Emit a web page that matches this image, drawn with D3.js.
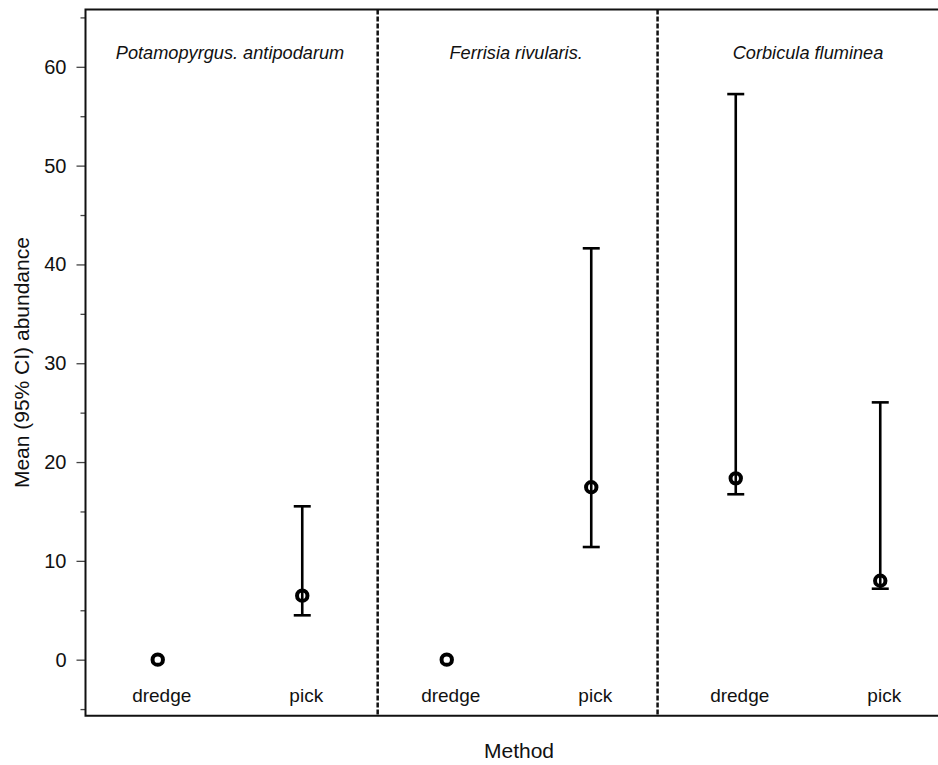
<!DOCTYPE html>
<html>
<head>
<meta charset="utf-8">
<script src="https://cdn.jsdelivr.net/npm/d3@7"></script>
<style>
  html, body { margin: 0; padding: 0; background: #fff; }
  svg { display: block; font-family: "Liberation Sans", Arial, sans-serif; }
</style>
</head>
<body>
<svg id="chart" width="938" height="765"></svg>
<script>
// ---- data ----
const species = ["Potamopyrgus. antipodarum", "Ferrisia rivularis.", "Corbicula fluminea"];
const methods = ["dredge", "pick"];
const means = [0, 6.48, 0, 17.45, 18.35, 7.99];
const lower = [0, 4.49, 0, 11.40, 16.74, 7.18];
const upper = [0, 15.52, 0, 41.63, 57.24, 26.04];
const majorTicks = [0, 10, 20, 30, 40, 50, 60];
const minorTicks = [-5, 5, 15, 25, 35, 45, 55, 65];
const yTitle = "Mean (95% CI) abundance";
const xTitle = "Method";

// ---- layout ----
const L = 85.5, R = 952.5, T = 9.5, B = 715.7;
const dividerIdx = [1.522, 3.459];
const titleIdx = [0.5, 2.48, 4.5];

const svg = d3.select("#chart");
const x = d3.scaleLinear().domain([-0.5, 5.5]).range([L, R]);
const y = d3.scaleLinear().domain([-5.67, 65.8]).range([B, T]);

const rows = means.map((m, i) => ({
  i, m, lo: lower[i], hi: upper[i],
  method: methods[i % 2], sp: species[Math.floor(i / 2)]
}));

// y axis major ticks
const yAxis = d3.axisLeft(y).tickValues(majorTicks).tickSize(9).tickPadding(10).tickFormat(d3.format("d"));
const gy = svg.append("g").attr("transform", `translate(${L},0)`).call(yAxis);
gy.select(".domain").remove();
gy.selectAll(".tick line").attr("stroke", "#444").attr("stroke-width", 1.3);
gy.selectAll(".tick text").attr("font-size", 20).attr("fill", "#111")
  .attr("font-family", "Liberation Sans, Arial, sans-serif");
// minor ticks
const yMinor = d3.axisLeft(y).tickValues(minorTicks).tickSize(5).tickFormat("");
const gm = svg.append("g").attr("transform", `translate(${L},0)`).call(yMinor);
gm.select(".domain").remove();
gm.selectAll(".tick line").attr("stroke", "#444").attr("stroke-width", 1.3);

// frame: left, top, bottom
svg.append("path")
  .attr("d", `M${R},${T}H${L}V${B}H${R}`)
  .attr("fill", "none").attr("stroke", "#111").attr("stroke-width", 2);

// dividers
svg.selectAll(".divider").data(dividerIdx).join("line")
  .attr("x1", d => x(d)).attr("x2", d => x(d))
  .attr("y1", T).attr("y2", B)
  .attr("stroke", "#111").attr("stroke-width", 2.5)
  .attr("stroke-dasharray", "5,2");

// panel titles
svg.selectAll(".ptitle").data(species).join("text")
  .attr("x", (d, i) => x(titleIdx[i])).attr("y", 59)
  .attr("text-anchor", "middle").attr("font-style", "italic")
  .attr("font-size", 18.2).attr("fill", "#111")
  .text(d => d);

// category labels
svg.selectAll(".cat").data(rows).join("text")
  .attr("x", d => x(d.i) + 4).attr("y", 701.5)
  .attr("text-anchor", "middle").attr("font-size", 19).attr("fill", "#111")
  .text(d => d.method);

// error bars
const bars = rows.filter(d => d.hi > d.lo);
const cap = 8.5;
const eg = svg.append("g").attr("stroke", "#000").attr("stroke-width", 2.6);
eg.selectAll(".v").data(bars).join("line")
  .attr("x1", d => x(d.i)).attr("x2", d => x(d.i))
  .attr("y1", d => y(d.hi)).attr("y2", d => y(d.lo));
eg.selectAll(".ct").data(bars).join("line")
  .attr("x1", d => x(d.i) - cap).attr("x2", d => x(d.i) + cap)
  .attr("y1", d => y(d.hi)).attr("y2", d => y(d.hi));
eg.selectAll(".cb").data(bars).join("line")
  .attr("x1", d => x(d.i) - cap).attr("x2", d => x(d.i) + cap)
  .attr("y1", d => y(d.lo)).attr("y2", d => y(d.lo));

// mean markers
svg.selectAll(".pt").data(rows).join("circle")
  .attr("cx", d => x(d.i)).attr("cy", d => y(d.m)).attr("r", 5.2)
  .attr("fill", "none").attr("stroke", "#000").attr("stroke-width", 4);

// axis titles
svg.append("text")
  .attr("x", (L + R) / 2).attr("y", 758)
  .attr("text-anchor", "middle").attr("font-size", 21).attr("fill", "#111")
  .text(xTitle);
svg.append("text")
  .attr("transform", `translate(29,${(T + B) / 2}) rotate(-90)`)
  .attr("text-anchor", "middle").attr("font-size", 21).attr("fill", "#111")
  .text(yTitle);
</script>
</body>
</html>
